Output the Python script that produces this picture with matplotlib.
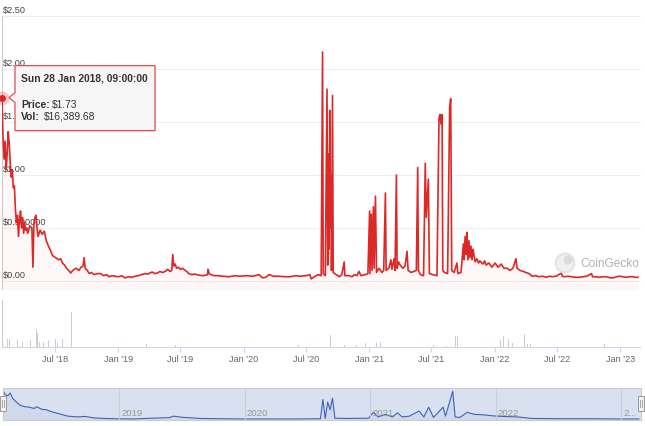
import matplotlib
matplotlib.use("Agg")
import matplotlib.pyplot as plt
import matplotlib.dates as mdates
import pandas as pd
from matplotlib.patches import Polygon, Circle, Rectangle

plt.rcParams["font.family"] = ["Liberation Sans", "DejaVu Sans"]

# price (USD)
price = [
    ("2018-01-28", 1.73), ("2018-01-31", 1.35), ("2018-02-03", 1.15), ("2018-02-06", 1.32),
    ("2018-02-09", 1.05), ("2018-02-12", 1.20), ("2018-02-15", 1.41), ("2018-02-18", 1.30),
    ("2018-02-21", 1.12), ("2018-02-24", 0.98), ("2018-02-27", 1.05), ("2018-03-02", 0.88),
    ("2018-03-05", 0.90), ("2018-03-08", 0.68), ("2018-03-11", 0.55), ("2018-03-14", 0.62),
    ("2018-03-17", 0.42), ("2018-03-20", 0.58), ("2018-03-23", 0.66), ("2018-03-26", 0.50),
    ("2018-03-29", 0.60), ("2018-04-01", 0.45), ("2018-04-04", 0.55), ("2018-04-07", 0.48),
    ("2018-04-10", 0.50), ("2018-04-13", 0.45), ("2018-04-19", 0.52), ("2018-04-25", 0.50),
    ("2018-04-28", 0.13), ("2018-05-01", 0.55), ("2018-05-04", 0.60), ("2018-05-07", 0.62),
    ("2018-05-10", 0.50), ("2018-05-13", 0.42), ("2018-05-19", 0.48), ("2018-05-25", 0.44),
    ("2018-05-31", 0.47), ("2018-06-06", 0.38), ("2018-06-12", 0.33), ("2018-06-18", 0.29),
    ("2018-06-24", 0.24), ("2018-07-03", 0.22), ("2018-07-12", 0.20), ("2018-07-18", 0.21),
    ("2018-07-23", 0.17), ("2018-07-29", 0.15), ("2018-08-04", 0.12), ("2018-08-10", 0.10),
    ("2018-08-16", 0.075), ("2018-08-22", 0.10), ("2018-08-31", 0.12), ("2018-09-09", 0.10),
    ("2018-09-15", 0.13), ("2018-09-21", 0.14), ("2018-09-24", 0.22), ("2018-09-27", 0.12),
    ("2018-10-03", 0.10), ("2018-10-09", 0.07), ("2018-10-15", 0.08), ("2018-10-24", 0.06),
    ("2018-11-02", 0.07), ("2018-11-11", 0.07), ("2018-11-20", 0.05), ("2018-11-29", 0.06),
    ("2018-12-05", 0.04), ("2018-12-15", 0.05),
    ("2019-01-01", 0.04), ("2019-01-12", 0.05), ("2019-01-20", 0.03), ("2019-02-01", 0.04),
    ("2019-02-10", 0.035), ("2019-02-20", 0.045), ("2019-03-01", 0.05), ("2019-03-10", 0.06),
    ("2019-03-20", 0.07), ("2019-03-28", 0.065), ("2019-04-10", 0.085), ("2019-04-18", 0.07),
    ("2019-04-25", 0.075), ("2019-05-03", 0.09), ("2019-05-10", 0.08), ("2019-05-18", 0.09),
    ("2019-05-25", 0.11), ("2019-06-01", 0.09), ("2019-06-06", 0.10), ("2019-06-09", 0.25),
    ("2019-06-12", 0.14), ("2019-06-16", 0.16), ("2019-06-20", 0.12), ("2019-06-26", 0.13),
    ("2019-07-01", 0.11), ("2019-07-08", 0.12), ("2019-07-15", 0.10), ("2019-07-20", 0.09),
    ("2019-07-25", 0.07), ("2019-08-03", 0.06), ("2019-08-12", 0.065), ("2019-08-24", 0.055),
    ("2019-09-05", 0.05), ("2019-09-18", 0.06), ("2019-09-20", 0.11), ("2019-09-23", 0.07),
    ("2019-09-28", 0.06), ("2019-10-08", 0.05), ("2019-10-20", 0.05), ("2019-11-01", 0.045),
    ("2019-11-20", 0.04), ("2019-12-05", 0.05), ("2019-12-20", 0.045),
    ("2020-01-10", 0.05), ("2020-01-28", 0.045), ("2020-02-15", 0.06), ("2020-02-25", 0.03),
    ("2020-03-06", 0.035), ("2020-03-15", 0.06), ("2020-03-28", 0.045), ("2020-04-15", 0.045),
    ("2020-05-01", 0.04), ("2020-05-15", 0.04), ("2020-06-01", 0.05), ("2020-06-15", 0.045),
    ("2020-07-01", 0.05), ("2020-07-12", 0.06), ("2020-07-16", 0.02), ("2020-07-25", 0.04),
    ("2020-08-05", 0.06), ("2020-08-14", 0.05), ("2020-08-18", 2.16), ("2020-08-20", 0.07),
    ("2020-08-26", 0.05), ("2020-08-31", 1.81), ("2020-09-02", 0.15), ("2020-09-05", 1.20),
    ("2020-09-06", 0.30), ("2020-09-08", 1.61), ("2020-09-10", 0.50), ("2020-09-12", 1.00),
    ("2020-09-13", 0.10), ("2020-09-16", 1.75), ("2020-09-18", 0.08), ("2020-09-27", 0.06),
    ("2020-10-06", 0.04), ("2020-10-13", 0.06), ("2020-10-20", 0.18), ("2020-10-22", 0.05),
    ("2020-11-04", 0.05), ("2020-11-12", 0.04), ("2020-11-19", 0.06), ("2020-11-26", 0.05),
    ("2020-12-02", 0.09), ("2020-12-08", 0.05), ("2020-12-20", 0.06), ("2020-12-28", 0.07),
    ("2021-01-02", 0.66), ("2021-01-03", 0.07), ("2021-01-07", 0.63), ("2021-01-09", 0.10),
    ("2021-01-13", 0.70), ("2021-01-15", 0.12), ("2021-01-19", 0.80), ("2021-01-22", 0.08),
    ("2021-01-29", 0.12), ("2021-02-07", 0.08), ("2021-02-12", 0.10), ("2021-02-17", 0.83),
    ("2021-02-19", 0.10), ("2021-02-27", 0.12), ("2021-03-05", 0.20), ("2021-03-08", 0.11),
    ("2021-03-14", 0.21), ("2021-03-17", 0.10), ("2021-03-21", 1.00), ("2021-03-23", 0.12),
    ("2021-03-27", 0.18), ("2021-04-01", 0.15), ("2021-04-09", 0.12), ("2021-04-15", 0.14),
    ("2021-04-21", 0.28), ("2021-04-24", 0.10), ("2021-05-03", 0.08), ("2021-05-10", 0.09),
    ("2021-05-18", 0.10), ("2021-05-22", 1.07), ("2021-05-24", 0.10), ("2021-05-30", 0.06),
    ("2021-06-08", 0.05), ("2021-06-13", 1.11), ("2021-06-16", 0.60), ("2021-06-22", 0.96),
    ("2021-06-25", 0.07), ("2021-07-05", 0.06), ("2021-07-17", 0.05), ("2021-07-23", 1.54),
    ("2021-07-26", 1.57), ("2021-07-29", 1.48), ("2021-08-01", 1.57), ("2021-08-03", 0.10),
    ("2021-08-08", 0.08), ("2021-08-17", 0.07), ("2021-08-23", 1.64), ("2021-08-26", 1.72),
    ("2021-08-29", 0.10), ("2021-09-05", 0.08), ("2021-09-13", 0.17), ("2021-09-16", 0.07),
    ("2021-09-25", 0.08), ("2021-10-02", 0.35), ("2021-10-04", 0.20), ("2021-10-07", 0.42),
    ("2021-10-10", 0.25), ("2021-10-12", 0.46), ("2021-10-15", 0.20), ("2021-10-18", 0.38),
    ("2021-10-21", 0.22), ("2021-10-24", 0.33), ("2021-10-27", 0.20), ("2021-10-30", 0.30),
    ("2021-11-05", 0.18), ("2021-11-10", 0.21), ("2021-11-15", 0.17), ("2021-11-19", 0.19),
    ("2021-11-28", 0.16), ("2021-12-03", 0.19), ("2021-12-07", 0.15), ("2021-12-15", 0.17),
    ("2021-12-24", 0.13),
    ("2022-01-02", 0.17), ("2022-01-11", 0.13), ("2022-01-20", 0.16), ("2022-01-28", 0.12),
    ("2022-02-06", 0.12), ("2022-02-15", 0.10), ("2022-02-23", 0.12), ("2022-03-04", 0.21),
    ("2022-03-07", 0.12), ("2022-03-16", 0.10), ("2022-03-25", 0.09), ("2022-04-02", 0.08),
    ("2022-04-11", 0.07), ("2022-04-20", 0.045), ("2022-05-01", 0.05), ("2022-05-10", 0.04),
    ("2022-05-20", 0.045), ("2022-05-31", 0.035), ("2022-06-10", 0.045), ("2022-06-20", 0.04),
    ("2022-07-02", 0.05), ("2022-07-14", 0.075), ("2022-07-17", 0.045), ("2022-07-23", 0.04),
    ("2022-08-02", 0.045), ("2022-08-12", 0.04), ("2022-08-25", 0.035), ("2022-09-05", 0.035),
    ("2022-09-15", 0.04), ("2022-09-26", 0.045), ("2022-10-10", 0.07), ("2022-10-13", 0.04),
    ("2022-10-22", 0.04), ("2022-11-02", 0.035), ("2022-11-12", 0.04), ("2022-11-23", 0.04),
    ("2022-12-03", 0.03), ("2022-12-13", 0.03), ("2022-12-22", 0.04), ("2022-12-30", 0.045),
    ("2023-01-10", 0.04), ("2023-01-20", 0.035), ("2023-01-28", 0.04), ("2023-02-07", 0.04),
    ("2023-02-14", 0.035), ("2023-02-22", 0.035),
]

# daily volume (USD), only the visible bars
volume = [
    ("2018-01-28", 16390), ("2018-02-03", 11000), ("2018-02-12", 5600), ("2018-02-18", 5600),
    ("2018-03-01", 15400), ("2018-03-07", 4900), ("2018-03-13", 4900), ("2018-03-28", 3700),
    ("2018-04-20", 4600), ("2018-05-08", 12300), ("2018-05-11", 10000), ("2018-05-17", 3700),
    ("2018-05-29", 3700), ("2018-06-12", 4900), ("2018-07-03", 5600), ("2018-07-09", 2500),
    ("2018-07-24", 5600), ("2018-08-19", 24500), ("2019-03-24", 2200), ("2019-06-17", 1500),
    ("2020-06-09", 1200), ("2020-09-11", 8600), ("2020-10-20", 1500), ("2020-11-24", 1500),
    ("2020-12-20", 2900), ("2021-01-22", 2900), ("2021-02-02", 3700), ("2021-07-07", 1500),
    ("2021-08-14", 1000), ("2021-09-10", 7800), ("2021-09-16", 7800), ("2021-10-24", 3700),
    ("2022-01-17", 4600), ("2022-01-26", 7400), ("2022-02-10", 5400), ("2022-02-22", 2500),
    ("2022-03-29", 9300), ("2022-04-06", 2000), ("2022-04-15", 2000), ("2022-11-17", 2000),
]

# navigator series (grouped price)
navigator = [
    ("2018-01-28", 1.15), ("2018-02-04", 0.98), ("2018-02-11", 0.95), ("2018-02-18", 1.05),
    ("2018-02-25", 0.85), ("2018-03-04", 0.75), ("2018-03-18", 0.58), ("2018-04-01", 0.52),
    ("2018-04-15", 0.50), ("2018-04-29", 0.45), ("2018-05-06", 0.52), ("2018-05-20", 0.42),
    ("2018-06-03", 0.40), ("2018-06-17", 0.33), ("2018-07-08", 0.25), ("2018-08-05", 0.15),
    ("2018-09-02", 0.12), ("2018-09-23", 0.14), ("2018-10-21", 0.08), ("2018-11-18", 0.06),
    ("2018-12-16", 0.05), ("2019-02-10", 0.04), ("2019-04-07", 0.07), ("2019-05-26", 0.09),
    ("2019-06-09", 0.15), ("2019-06-30", 0.11), ("2019-08-25", 0.06), ("2019-10-20", 0.05),
    ("2019-12-29", 0.04), ("2020-03-01", 0.04), ("2020-05-31", 0.04), ("2020-08-09", 0.05),
    ("2020-08-16", 0.80), ("2020-08-23", 0.06), ("2020-08-30", 0.70), ("2020-09-06", 0.40),
    ("2020-09-13", 0.85), ("2020-09-20", 0.07), ("2020-10-25", 0.06), ("2020-12-27", 0.07),
    ("2021-01-10", 0.30), ("2021-01-24", 0.12), ("2021-02-14", 0.22), ("2021-03-07", 0.12),
    ("2021-03-21", 0.28), ("2021-04-04", 0.12), ("2021-04-25", 0.15), ("2021-05-23", 0.35),
    ("2021-06-06", 0.12), ("2021-06-20", 0.50), ("2021-07-04", 0.10), ("2021-08-01", 0.50),
    ("2021-08-08", 0.15), ("2021-08-29", 1.12), ("2021-09-05", 0.12), ("2021-09-19", 0.10),
    ("2021-10-10", 0.30), ("2021-10-31", 0.22), ("2021-11-28", 0.20), ("2021-12-26", 0.16),
    ("2022-01-23", 0.14), ("2022-03-06", 0.12), ("2022-04-17", 0.06), ("2022-07-10", 0.05),
    ("2022-10-09", 0.05), ("2023-01-01", 0.04), ("2023-02-22", 0.04),
]

y_ticks = [0.0, 0.5, 1.0, 1.5, 2.0, 2.5]
y_labels = ["$0.00", "$0.500000", "$1.00", "$1.50", "$2.00", "$2.50"]
x_ticks = ["2018-07-01", "2019-01-01", "2019-07-01", "2020-01-01", "2020-07-01",
           "2021-01-01", "2021-07-01", "2022-01-01", "2022-07-01", "2023-01-01"]
x_labels = ["Jul '18", "Jan '19", "Jul '19", "Jan '20", "Jul '20",
            "Jan '21", "Jul '21", "Jan '22", "Jul '22", "Jan '23"]
nav_years = ["2019", "2020", "2021", "2022", "2..."]
nav_year_dates = ["2019-01-01", "2020-01-01", "2021-01-01", "2022-01-01", "2023-01-01"]
tip_title = "Sun 28 Jan 2018, 09:00:00"
tip_price = "$1.73"
tip_vol = "$16,389.68"

p_dates = pd.to_datetime([d for d, _ in price])
p_vals = [v for _, v in price]
v_dates = pd.to_datetime([d for d, _ in volume])
v_vals = [v for _, v in volume]
n_dates = pd.to_datetime([d for d, _ in navigator])
n_vals = [v for _, v in navigator]

W, H = 645, 426
fig = plt.figure(figsize=(W / 100, H / 100), dpi=100)


def box(x0, y0, x1, y1):
    return [x0 / W, 1 - y1 / H, (x1 - x0) / W, (y1 - y0) / H]


t0, t1 = pd.Timestamp("2018-01-28"), pd.Timestamp("2023-02-28")
red = "#dd2828"
grey_txt = "#666666"

# main price panel
ax = fig.add_axes(box(2, 16, 640, 290))
ax.set_axis_off()
ax.set_xlim(t0, t1)
ax.set_ylim(-0.085, 2.5)
for v, lab in zip(y_ticks, y_labels):
    ax.axhline(v, color="#efefef", lw=0.8, zorder=0, clip_on=False)
    ax.text(0.002, v + 0.01, lab, transform=ax.get_yaxis_transform(), ha="left",
            va="bottom", fontsize=6.6, color="#444444", zorder=1)
ax.fill_between(p_dates, p_vals, -0.085, color=red, alpha=0.035, lw=0, zorder=2)
ax.plot(p_dates, p_vals, color=red, lw=1.2, solid_joinstyle="round", zorder=3)
ax.axvline(p_dates[0], color="#cfcfcf", lw=0.8, zorder=1)
ax.plot(p_dates[0], p_vals[0], "o", ms=10, color=red, alpha=0.25, mec="none",
        clip_on=False, zorder=4)
ax.plot(p_dates[0], p_vals[0], "o", ms=5, color=red, mec="none", clip_on=False, zorder=5)

# volume panel
axv = fig.add_axes(box(2, 300, 640, 347))
axv.bar(v_dates, v_vals, width=2.5, color="#cdcdcd", lw=0)
axv.axvline(p_dates[0], color="#cfcfcf", lw=0.8)
axv.set_xlim(t0, t1)
axv.set_ylim(0, 33000)
for s in ["top", "left", "right"]:
    axv.spines[s].set_visible(False)
axv.spines["bottom"].set_color("#ccd6eb")
axv.set_yticks([])
axv.set_xticks(pd.to_datetime(x_ticks))
axv.set_xticklabels(x_labels)
axv.tick_params(axis="x", length=3.6, width=0.8, color="#ccd6eb", labelcolor=grey_txt,
                labelsize=6.6, pad=2)
axv.patch.set_alpha(0)

# navigator
axn = fig.add_axes(box(3, 388, 641, 420))
axn.set_facecolor("#d9e0ef")
axn.set_xlim(t0, t1)
axn.set_ylim(0, 1.25)
axn.fill_between(n_dates, n_vals, 0, color="#335cad", alpha=0.05, lw=0)
axn.plot(n_dates, n_vals, color="#3d63b5", lw=0.8)
for d, lab in zip(pd.to_datetime(nav_year_dates), nav_years):
    axn.axvline(d, color="#c5cde0", lw=0.8)
    axn.text(d + pd.Timedelta(days=6), 0.06, lab, transform=axn.get_xaxis_transform(),
             fontsize=6.8, color="#999999", va="bottom", ha="left", clip_on=True)
axn.set_xticks([])
axn.set_yticks([])
for s in axn.spines.values():
    s.set_color("#cccccc")
    s.set_linewidth(0.8)

# overlay in pixel coordinates: tooltip, handles, watermark
ov = fig.add_axes([0, 0, 1, 1], zorder=10)
ov.set_xlim(0, W)
ov.set_ylim(H, 0)
ov.set_axis_off()
ov.patch.set_alpha(0)

mx, my = ax.transData.transform((mdates.date2num(p_dates[0]), p_vals[0]))
my = H - my
tip = [(mx + 13, my - 32), (mx + 153, my - 32), (mx + 153, my + 33), (mx + 13, my + 33),
       (mx + 13, my + 5), (mx + 7, my), (mx + 13, my - 5)]
ov.add_patch(Polygon([(x + 1, y + 1) for x, y in tip], closed=True, fc="black", alpha=0.07,
                     ec="none"))
ov.add_patch(Polygon(tip, closed=True, fc="#f7f7f7", ec="#e2484b", lw=0.9, alpha=0.97))
tx = mx + 19
ov.text(tx, my - 19, tip_title, fontsize=7.4, fontweight="bold", color="#333333", va="center")
ov.text(tx, my + 7, "Price:", fontsize=7.4, fontweight="bold", color="#333333", va="center")
ov.text(tx + 31, my + 7, tip_price, fontsize=7.4, color="#333333", va="center")
ov.text(tx, my + 19, "Vol:", fontsize=7.4, fontweight="bold", color="#333333", va="center")
ov.text(tx + 23, my + 19, tip_vol, fontsize=7.4, color="#333333", va="center")

for hx in (0, 638):
    ov.add_patch(Rectangle((hx, 396), 6, 15, fc="#f2f2f2", ec="#999999", lw=0.7))
    ov.plot([hx + 2.3, hx + 2.3], [400, 407], color="#999999", lw=0.6)
    ov.plot([hx + 3.7, hx + 3.7], [400, 407], color="#999999", lw=0.6)

ov.add_patch(Circle((565, 263), 10.5, fc="#e4e4e4", ec="none", alpha=0.9))
ov.add_patch(Circle((565, 263), 8, fc="#f2f2f2", ec="none", alpha=0.9))
ov.add_patch(Circle((568, 260), 4.5, fc="#d8d8d8", ec="none", alpha=0.9))
ov.text(580, 264, "CoinGecko", fontsize=8.6, color="#b3b3b3", va="center", ha="left")

fig.savefig("out.png", dpi=100)
